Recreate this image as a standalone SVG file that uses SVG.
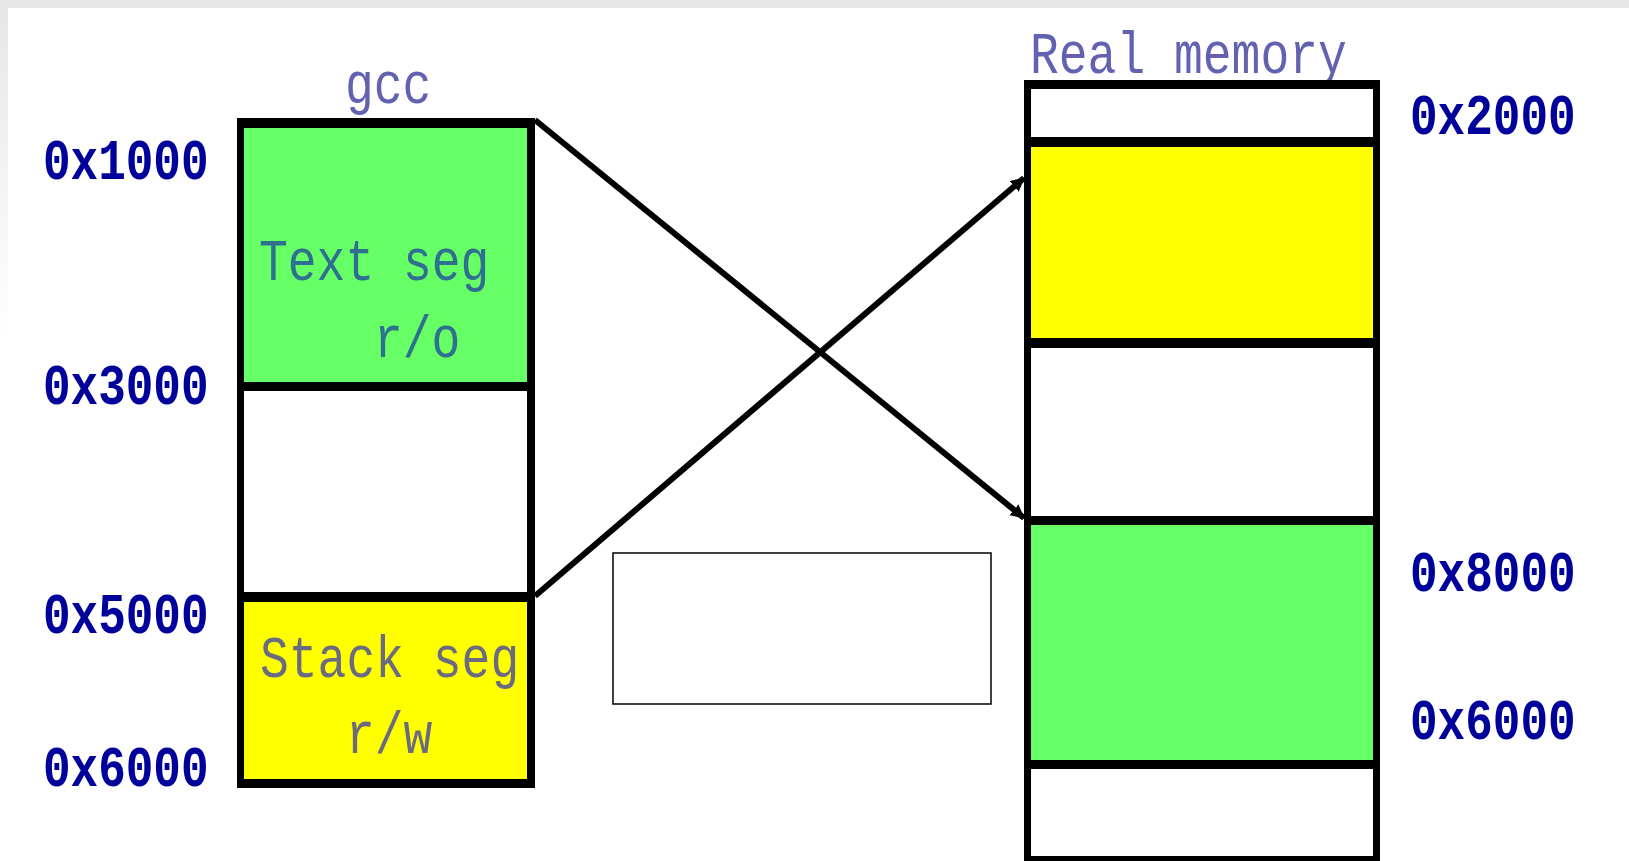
<svg xmlns="http://www.w3.org/2000/svg" width="1629" height="861" viewBox="0 0 1629 861">
  <defs>
    <linearGradient id="leftFade" x1="0" y1="0" x2="0" y2="1">
      <stop offset="0" stop-color="#e6e6e6"/>
      <stop offset="1" stop-color="#ffffff"/>
    </linearGradient>
    <marker id="arrow" markerUnits="userSpaceOnUse" markerWidth="18" markerHeight="18" refX="13" refY="7" orient="auto">
      <path d="M0,0 L14,7 L0,14 Z" fill="#000"/>
    </marker>
    <style>
      .addr { font-family: "Liberation Mono", "Courier New", monospace; font-weight: bold; font-size: 46px; fill: #00009a; }
      .title { font-family: "Liberation Mono", "Courier New", monospace; font-size: 48px; fill: #6262b0; }
      .seg { font-family: "Liberation Mono", "Courier New", monospace; font-size: 48px; }
      .conn { stroke: #000; stroke-width: 6; fill: none; }
    </style>
  </defs>

  <rect x="0" y="0" width="1629" height="861" fill="#ffffff"/>
  <rect x="0" y="0" width="8" height="340" fill="url(#leftFade)"/>
  <rect x="0" y="0" width="1629" height="8" fill="#e7e7e7"/>

  <!-- gcc virtual address space -->
  <g id="gcc-space">
    <text class="title" x="345" y="103" transform="translate(0,-23.7) scale(1,1.23)">gcc</text>
    <rect x="237" y="118" width="298" height="670" fill="#000"/>
    <rect x="244" y="128" width="283" height="254" fill="#66ff66"/>
    <rect x="244" y="391" width="283" height="201" fill="#ffffff"/>
    <rect x="244" y="602" width="283" height="177" fill="#ffff00"/>
    <text class="seg" fill="#2f6f8f" x="259" y="280" transform="translate(0,-64.4) scale(1,1.23)">Text seg</text>
    <text class="seg" fill="#2f6f8f" x="374" y="357" transform="translate(0,-82.1) scale(1,1.23)">r/o</text>
    <text class="seg" fill="#6a6a80" x="260" y="677" transform="translate(0,-155.7) scale(1,1.23)">Stack seg</text>
    <text class="seg" fill="#6a6a80" x="346" y="753" transform="translate(0,-173.2) scale(1,1.23)">r/w</text>
  </g>

  <g id="gcc-addresses">
    <text class="addr" x="43" y="179" transform="translate(0,-41.2) scale(1,1.23)">0x1000</text>
    <text class="addr" x="43" y="404" transform="translate(0,-92.9) scale(1,1.23)">0x3000</text>
    <text class="addr" x="43" y="633" transform="translate(0,-145.6) scale(1,1.23)">0x5000</text>
    <text class="addr" x="43" y="786" transform="translate(0,-180.8) scale(1,1.23)">0x6000</text>
  </g>

  <!-- Real memory -->
  <g id="real-memory">
    <text class="title" x="1030" y="73" transform="translate(0,-16.8) scale(1,1.23)">Real memory</text>
    <rect x="1024" y="80" width="356" height="790" fill="#000"/>
    <rect x="1031" y="89" width="342" height="48" fill="#ffffff"/>
    <rect x="1031" y="147" width="342" height="191" fill="#ffff00"/>
    <rect x="1031" y="348" width="342" height="168" fill="#ffffff"/>
    <rect x="1031" y="525" width="342" height="235" fill="#66ff66"/>
    <rect x="1031" y="769" width="342" height="87" fill="#ffffff"/>
  </g>

  <g id="real-addresses">
    <text class="addr" x="1410" y="134" transform="translate(0,-30.8) scale(1,1.23)">0x2000</text>
    <text class="addr" x="1410" y="591" transform="translate(0,-135.9) scale(1,1.23)">0x8000</text>
    <text class="addr" x="1410" y="739" transform="translate(0,-170) scale(1,1.23)">0x6000</text>
  </g>

  <g id="empty-box">
    <rect x="613" y="553" width="378" height="151" fill="#ffffff" stroke="#111" stroke-width="1.6"/>
  </g>

  <g id="connectors">
    <line class="conn" x1="535" y1="120" x2="1024" y2="518" marker-end="url(#arrow)"/>
    <line class="conn" x1="535" y1="596" x2="1024" y2="178" marker-end="url(#arrow)"/>
  </g>
</svg>
